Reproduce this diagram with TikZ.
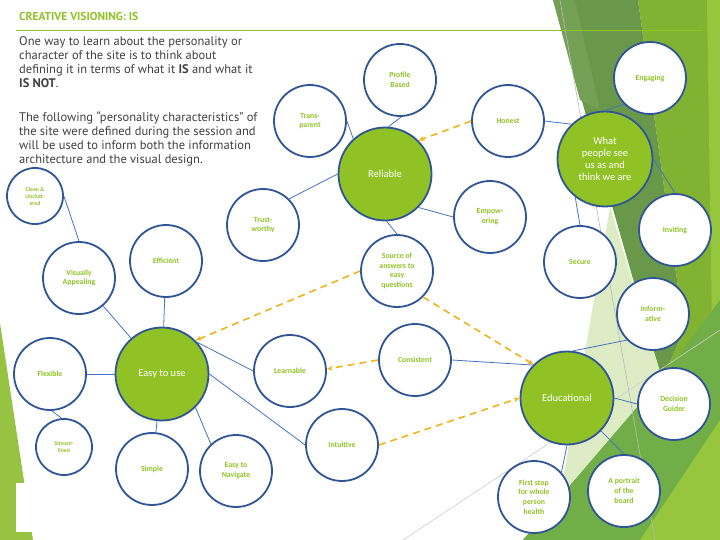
\documentclass[tikz,border=0pt]{standalone}
\usepackage{fontspec}
\setmainfont{Carlito}
\newfontfamily\bodyfont{PT Sans}
\usetikzlibrary{arrows.meta}
\definecolor{lgreen}{RGB}{144,194,38}
\definecolor{cborder}{RGB}{47,85,151}
\definecolor{cline}{RGB}{68,114,196}
\definecolor{gold}{RGB}{238,180,30}
\definecolor{textgray}{RGB}{64,64,64}
\definecolor{darkbg}{RGB}{106,152,74}
\definecolor{darkbg2}{RGB}{116,160,86}
\definecolor{medbg}{RGB}{130,178,50}
\definecolor{brightbg}{RGB}{150,198,62}
\definecolor{botbg}{RGB}{114,174,72}
\definecolor{palebg}{RGB}{222,236,198}
\definecolor{leftbg}{RGB}{150,196,66}
\tikzset{
  smallc/.style={circle, draw=cborder, line width=1.8pt, fill=white, minimum size=72pt, inner sep=0pt,
    font=\fontsize{7.8}{9.8}\selectfont\bfseries, text=lgreen, align=center},
  tinyc/.style={smallc, minimum size=56pt, font=\fontsize{5.8}{7}\selectfont\bfseries},
  bigc/.style={circle, draw=cborder, line width=1.8pt, fill=lgreen, minimum size=93pt, inner sep=0pt,
    font=\fontsize{10.5}{12}\selectfont, text=white, align=center},
  conn/.style={draw=cline, line width=0.8pt},
  goldarrow/.style={draw=gold, line width=1.6pt, dash pattern=on 7pt off 5pt, -{Stealth[length=6pt,width=5pt]}}
}
\begin{document}
\begin{tikzpicture}[x=1pt,y=-1pt]
\useasboundingbox (0,0) rectangle (720,540);
% background
\fill[white] (0,0) rectangle (720,540);
\fill[leftbg] (0,323) -- (33,540) -- (0,540) -- cycle;
\fill[white] (16,483) rectangle (60,532);
\fill[medbg] (638,0) -- (720,0) -- (720,540) -- (523,540) -- (662,380) -- (684,330) -- cycle;
\fill[brightbg] (707,0) -- (720,0) -- (720,540) -- (700,540) -- (712,330) -- cycle;
\fill[darkbg] (553,0) -- (638,0) -- (684,330) -- (662,380) -- cycle;
\fill[darkbg2] (553,0) -- (575,0) -- (600,110) -- (580,100) -- cycle;
\fill[palebg] (610,207) -- (560,496) -- (662,378) -- cycle;
\fill[botbg] (523,540) -- (662,378) -- (720,300) -- (720,540) -- cycle;
\fill[brightbg] (640,540) -- (720,420) -- (720,540) -- cycle;
\draw[gray!55, line width=0.6pt] (560,0) -- (655,540);
\draw[gray!40, line width=0.6pt] (403,540) -- (720,330);
\draw[lgreen, line width=1pt] (16,31) -- (703,31);
% text
\node[anchor=west, inner sep=0pt, text=lgreen, font=\bodyfont\bfseries\fontsize{11.5}{13}\selectfont] (title) at (19,16) {CREATIVE VISIONING: IS};
\node[anchor=north west, inner sep=0pt, align=left, text=textgray, font=\bodyfont\fontsize{12.5}{14}\selectfont] (body) at (19,36)
{One way to learn about the personality or\\
character of the site is to think about\\
defining it in terms of what it \textbf{IS} and what it\\
\textbf{IS NOT}.\\[20pt]
The following “personality characteristics” of\\
the site were defined during the session and\\
will be used to inform both the information\\
architecture and the visual design.};
% nodes
\node[smallc] (prof) at (400,80) {Profile\\Based};
\node[smallc] (trans) at (310,121) {Trans-\\parent};
\node[bigc] (rel) at (385,174) {Reliable};
\node[smallc] (hon) at (508,121) {Honest};
\node[smallc] (trust) at (263,225) {Trust-\\worthy};
\node[smallc] (emp) at (490,217) {Empow-\\ering};
\node[smallc] (src) at (397,271) {Source of\\answers to\\easy\\questions};
\node[bigc, minimum size=95pt] (what) at (605,159) {What\\people see\\us as and\\think we are};
\node[smallc] (eng) at (650,78) {Engaging};
\node[smallc] (inv) at (675,230) {Inviting};
\node[smallc] (sec) at (580,262) {Secure};
\node[smallc] (inf) at (653,314) {Inform-\\ative};
\node[bigc] (edu) at (567,398) {Educational};
\node[smallc] (dec) at (674,404) {Decision\\Guider};
\node[smallc] (port) at (624,491) {A portrait\\of the\\board};
\node[smallc] (first) at (534,497) {First stop\\for whole\\person\\health};
\node[smallc] (cons) at (415,360) {Consistent};
\node[smallc] (intu) at (342,445) {Intuitive};
\node[smallc] (learn) at (290,371) {Learnable};
\node[bigc] (easy) at (162,374) {Easy to use};
\node[smallc] (flex) at (50,374) {Flexible};
\node[tinyc] (stream) at (64,447) {Stream-\\lined};
\node[smallc] (simple) at (152,469) {Simple};
\node[smallc] (nav) at (236,471) {Easy to\\Navigate};
\node[tinyc] (clean) at (35,196) {Clean \&\\Unclutt-\\ered};
\node[smallc] (va) at (79,278) {Visually\\Appealing};
\node[smallc] (eff) at (166,261) {Efficient};
% connectors
\draw[conn] (rel.86) -- (prof.-88);
\draw[conn] (trans.0) -- (rel.132);
\draw[conn] (trust.45) -- (rel.180);
\draw[conn] (rel.-45) -- (emp.180);
\draw[conn] (rel.-88) -- (src.90);
\draw[conn] (hon.0) -- (what.134);
\draw[conn] (what.90) -- (eng.225);
\draw[conn] (what.0) -- (inv.90);
\draw[conn] (what.232) -- (sec.90);
\draw[conn] (cons.0) -- (edu.136);
\draw[conn] (edu.83) -- (inf.225);
\draw[conn] (edu.0) -- (dec.180);
\draw[conn] (edu.-44) -- (port.90);
\draw[conn] (edu.-90) -- (first.42);
\draw[conn] (easy.42) -- (learn.180);
\draw[conn] (easy.0) -- (intu.180);
\draw[conn] (easy.180) -- (flex.0);
\draw[conn] (va) -- (easy);
\draw[conn] (eff) -- (easy);
\draw[conn] (easy) -- (simple);
\draw[conn] (easy.-45) -- (nav.133);
\draw[conn] (flex.-87) -- (stream.95);
\draw[conn] (clean.0) -- (va.90);
% dashed arrows
\draw[goldarrow] (hon.180) -- (rel.45);
\draw[goldarrow] (src.180) -- (easy.45);
\draw[goldarrow] (src.-45) -- (edu.135);
\draw[goldarrow] (cons.180) -- (learn.3);
\draw[goldarrow] (intu.0) -- (edu.180);
\end{tikzpicture}
\end{document}
